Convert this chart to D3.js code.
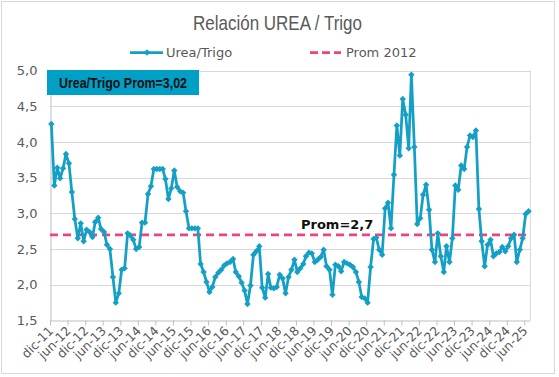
<!DOCTYPE html>
<html><head><meta charset="utf-8">
<script src="https://cdn.jsdelivr.net/npm/d3@7"></script>
<style>body{margin:0;background:#fff}svg{display:block}</style>
</head><body><svg id="c" width="559" height="377"></svg>
<script>
// ---- data ----
const startYear = 2011, startMonth = 11; // first point: December 2011 (monthly)
const ratio = [
4.25,3.39,3.64,3.49,3.63,3.83,3.70,3.30,2.92,2.65,2.86,2.61,2.77,2.74,2.67,2.88,2.94,2.78,2.74,2.56,
2.50,2.11,1.75,1.88,2.21,2.23,2.72,2.69,2.63,2.50,2.53,2.87,2.87,3.27,3.38,3.62,3.62,3.62,3.62,3.48,
3.20,3.35,3.60,3.37,3.31,3.29,3.03,2.79,2.79,2.79,2.79,2.29,2.18,2.04,1.90,1.97,2.11,2.17,2.21,2.27,
2.30,2.32,2.36,2.18,2.12,2.03,1.92,1.73,1.99,2.42,2.47,2.54,1.96,1.82,2.15,1.96,1.95,1.97,2.14,2.09,
1.88,2.11,2.21,2.35,2.18,2.23,2.29,2.40,2.45,2.44,2.32,2.35,2.39,2.49,2.26,2.21,1.86,2.28,2.26,2.19,
2.32,2.30,2.28,2.25,2.18,2.04,1.83,1.81,1.75,2.25,2.64,2.66,2.49,2.42,3.07,3.15,2.79,3.54,4.23,3.81,
4.60,4.38,3.91,4.94,3.93,2.85,2.93,3.26,3.40,3.05,2.49,2.32,2.72,2.40,2.18,2.54,2.32,2.65,3.39,3.33,
3.67,3.62,3.93,4.09,4.07,4.16,3.06,2.61,2.26,2.56,2.63,2.40,2.44,2.46,2.53,2.47,2.54,2.65,2.70,2.32,
2.49,2.65,2.99,3.03
];
const promValue = 2.7;
const promLabel = "Prom=2,7";
const avgLabel = "Urea/Trigo Prom=3,02";
const titleText = "Relación UREA / Trigo";
const seriesNames = ["Urea/Trigo", "Prom 2012"];
const yTicks = [1.5, 2.0, 2.5, 3.0, 3.5, 4.0, 4.5, 5.0];
const tickLabels = ["dic-11","jun-12","dic-12","jun-13","dic-13","jun-14","dic-14","jun-15","dic-15","jun-16",
"dic-16","jun-17","dic-17","jun-18","dic-18","jun-19","dic-19","jun-20","dic-20","jun-21","dic-21","jun-22",
"dic-22","jun-23","dic-23","jun-24","dic-24","jun-25"];

// ---- chart ----
const svg = d3.select("#c");
const lineColor = "#14a0c6", boxColor = "#00a0c6", pink = "#ee4282", gridCol = "#d9d9d9", axisCol = "#bfbfbf", txt = "#595959";
const pLeft = 50, pRight = 530, pTop = 70.5, pBottom = 320.5;

const points = ratio.map((v, i) => ({d: new Date(startYear, startMonth + i, 15), v}));
const tickDates = tickLabels.map((l, k) => new Date(startYear, startMonth + 6 * k, 1));

const x = d3.scaleTime().domain([tickDates[0], tickDates[tickDates.length - 1]]).range([pLeft, 524.3]);
const y = d3.scaleLinear().domain([1.5, 5]).range([pBottom, pTop]);

// outer border
svg.append("rect").attr("x", 1.5).attr("y", 1.5).attr("width", 553).attr("height", 372)
  .attr("fill", "#fff").attr("stroke", gridCol);

// gridlines
svg.append("g").selectAll("line").data(yTicks.filter(t => t > 1.5)).join("line")
  .attr("x1", pLeft).attr("x2", pRight)
  .attr("y1", d => Math.round(y(d)) + 0.5).attr("y2", d => Math.round(y(d)) + 0.5)
  .attr("stroke", gridCol).attr("stroke-width", 1);
// right border of plot
svg.append("line").attr("x1", pRight + 0.5).attr("x2", pRight + 0.5).attr("y1", pTop).attr("y2", pBottom)
  .attr("stroke", gridCol);

// y axis
const yAxis = d3.axisLeft(y).tickValues(yTicks).tickSize(0).tickPadding(13)
  .tickFormat(d => d3.format(".1f")(d).replace(".", ","));
const gy = svg.append("g").attr("transform", `translate(${pLeft + 0.5},0)`).call(yAxis);
gy.select(".domain").attr("stroke", axisCol);
gy.selectAll("text").attr("fill", txt).style("font-family", "'DejaVu Sans', Verdana, sans-serif").style("font-size", "13px");

// x axis
const xAxis = d3.axisBottom(x).tickValues(tickDates).tickSize(5).tickFormat("");
const gx = svg.append("g").attr("transform", `translate(0,${pBottom})`).call(xAxis);
gx.select(".domain").attr("stroke", axisCol).attr("d", `M${pLeft},0.5H${pRight}`);
gx.selectAll(".tick line").attr("stroke", axisCol);
svg.append("g").selectAll("text").data(tickLabels).join("text")
  .attr("transform", (d, k) => `translate(${x(tickDates[k]) + 1},${pBottom + 8}) rotate(-45)`)
  .attr("text-anchor", "end").attr("dy", "0.35em")
  .attr("fill", txt).style("font-family", "'DejaVu Sans', Verdana, sans-serif").style("font-size", "12.5px")
  .text(d => d);

// Prom line
svg.append("line").attr("x1", pLeft).attr("x2", 528).attr("y1", y(promValue)).attr("y2", y(promValue))
  .attr("stroke", pink).attr("stroke-width", 2.75).attr("stroke-dasharray", "8,5");

// series line
const line = d3.line().x(d => x(d.d)).y(d => y(d.v));
svg.append("path").datum(points).attr("d", line).attr("fill", "none")
  .attr("stroke", lineColor).attr("stroke-width", 2.75).attr("stroke-linejoin", "round");
const diamond = "M0,-3.2L3.2,0L0,3.2L-3.2,0Z";
svg.append("g").selectAll("path").data(points).join("path")
  .attr("d", diamond).attr("transform", d => `translate(${x(d.d)},${y(d.v)})`).attr("fill", lineColor);

// prom label
svg.append("text").attr("x", 301).attr("y", 228.5).attr("fill", "#111")
  .style("font-family", "'DejaVu Sans', Verdana, sans-serif").style("font-size", "13px").style("font-weight", "bold")
  .text(promLabel);

// avg box
svg.append("rect").attr("x", 47).attr("y", 70).attr("width", 152).attr("height", 25).attr("fill", boxColor);
svg.append("text").attr("x", 59).attr("y", 87.5).attr("fill", "#111")
  .attr("textLength", 128).attr("lengthAdjust", "spacingAndGlyphs")
  .style("font-family", "'Liberation Sans', Arial, sans-serif").style("font-size", "14px").style("font-weight", "bold")
  .text(avgLabel);

// title
svg.append("text").attr("x", 193).attr("y", 30).attr("fill", txt)
  .attr("textLength", 169).attr("lengthAdjust", "spacingAndGlyphs")
  .style("font-family", "'Liberation Sans', Arial, sans-serif").style("font-size", "21px")
  .text(titleText);

// legend
const lg = svg.append("g");
lg.append("line").attr("x1", 130).attr("x2", 163).attr("y1", 52.5).attr("y2", 52.5)
  .attr("stroke", lineColor).attr("stroke-width", 2.75);
lg.append("path").attr("d", diamond).attr("transform", "translate(147,52.5)").attr("fill", lineColor);
lg.append("text").attr("x", 166).attr("y", 57).attr("fill", txt)
  .style("font-family", "'DejaVu Sans', Verdana, sans-serif").style("font-size", "13px").text(seriesNames[0]);
lg.append("line").attr("x1", 310).attr("x2", 341).attr("y1", 52.5).attr("y2", 52.5)
  .attr("stroke", pink).attr("stroke-width", 2.75).attr("stroke-dasharray", "8,4");
lg.append("text").attr("x", 346).attr("y", 57).attr("fill", txt)
  .style("font-family", "'DejaVu Sans', Verdana, sans-serif").style("font-size", "13px").text(seriesNames[1]);
</script></body></html>
